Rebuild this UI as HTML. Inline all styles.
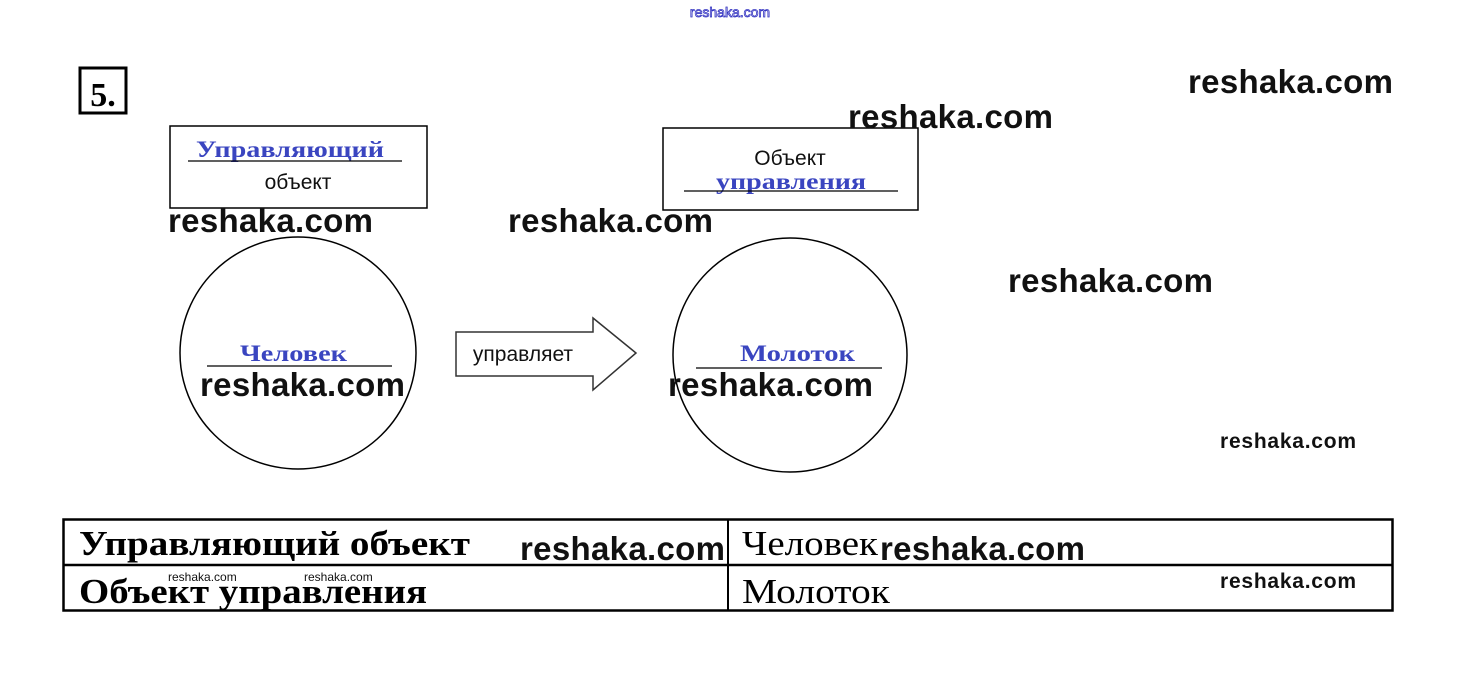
<!DOCTYPE html>
<html><head><meta charset="utf-8"><style>
html,body{margin:0;padding:0;background:#fff;width:1460px;height:678px;overflow:hidden}
svg{display:block}
.w{font-family:"Liberation Sans",sans-serif;font-weight:bold;fill:#111}
.s{font-family:"Liberation Sans",sans-serif;fill:#111}
.b{font-family:"Liberation Serif",serif;font-weight:bold;fill:#3a45c0}
.t{font-family:"Liberation Serif",serif;fill:#000}
</style></head><body>
<svg width="1460" height="678" viewBox="0 0 1460 678" xmlns="http://www.w3.org/2000/svg">
<text x="730" y="17" text-anchor="middle" font-family="Liberation Sans,sans-serif" font-size="14" fill="none" stroke="#3030c0" stroke-width="0.8">reshaka.com</text>
<rect x="80" y="68" width="46" height="45" fill="none" stroke="#000" stroke-width="3"/>
<text x="103" y="106" text-anchor="middle" class="t" font-weight="bold" font-size="34">5.</text>

<rect x="170" y="126" width="257" height="82" fill="none" stroke="#000" stroke-width="1.5"/>
<text x="196" y="157" class="b" font-size="23" textLength="188" lengthAdjust="spacingAndGlyphs">Управляющий</text>
<line x1="188" y1="161" x2="402" y2="161" stroke="#000" stroke-width="1.3"/>
<text x="298" y="189" text-anchor="middle" class="s" font-size="21">объект</text>

<rect x="663" y="128" width="255" height="82" fill="none" stroke="#000" stroke-width="1.5"/>
<text x="790" y="165" text-anchor="middle" class="s" font-size="21">Объект</text>
<text x="716" y="189" class="b" font-size="23" textLength="150" lengthAdjust="spacingAndGlyphs">управления</text>
<line x1="684" y1="191" x2="898" y2="191" stroke="#000" stroke-width="1.3"/>

<ellipse cx="298" cy="353" rx="118" ry="116" fill="none" stroke="#000" stroke-width="1.5"/>
<text x="240" y="361" class="b" font-size="23" textLength="107" lengthAdjust="spacingAndGlyphs">Человек</text>
<line x1="207" y1="366" x2="392" y2="366" stroke="#000" stroke-width="1.3"/>

<ellipse cx="790" cy="355" rx="117" ry="117" fill="none" stroke="#000" stroke-width="1.5"/>
<text x="740" y="361" class="b" font-size="23" textLength="115" lengthAdjust="spacingAndGlyphs">Молоток</text>
<line x1="696" y1="368" x2="882" y2="368" stroke="#000" stroke-width="1.3"/>

<polygon points="456,332 593,332 593,318 636,353 593,390 593,376 456,376" fill="#fff" stroke="#333" stroke-width="1.5"/>
<text x="523" y="361" text-anchor="middle" class="s" font-size="21">управляет</text>

<rect x="63.5" y="519.5" width="1329" height="91" fill="none" stroke="#000" stroke-width="2.5"/>
<line x1="63" y1="565" x2="1393" y2="565" stroke="#000" stroke-width="2.5"/>
<line x1="728" y1="519" x2="728" y2="611" stroke="#000" stroke-width="2"/>
<text x="79" y="555" class="t" font-weight="bold" font-size="35" textLength="391" lengthAdjust="spacingAndGlyphs">Управляющий объект</text>
<text x="79" y="603" class="t" font-weight="bold" font-size="35" textLength="348" lengthAdjust="spacingAndGlyphs">Объект управления</text>
<text x="742" y="555" class="t" font-size="35" textLength="136" lengthAdjust="spacingAndGlyphs">Человек</text>
<text x="742" y="603" class="t" font-size="35" textLength="148" lengthAdjust="spacingAndGlyphs">Молоток</text>

<g class="w" font-size="33">
<text x="1188" y="93" textLength="205">reshaka.com</text>
<text x="848" y="128" textLength="205">reshaka.com</text>
<text x="168" y="232" textLength="205">reshaka.com</text>
<text x="508" y="232" textLength="205">reshaka.com</text>
<text x="1008" y="292" textLength="205">reshaka.com</text>
<text x="200" y="396" textLength="205">reshaka.com</text>
<text x="668" y="396" textLength="205">reshaka.com</text>
<text x="520" y="560" textLength="205">reshaka.com</text>
<text x="880" y="560" textLength="205">reshaka.com</text>
</g>
<g class="w" font-size="21">
<text x="1220" y="448" textLength="136">reshaka.com</text>
<text x="1220" y="588" textLength="136">reshaka.com</text>
</g>
<g class="s" font-size="12">
<text x="168" y="581">reshaka.com</text>
<text x="304" y="581">reshaka.com</text>
</g>
</svg>
</body></html>
